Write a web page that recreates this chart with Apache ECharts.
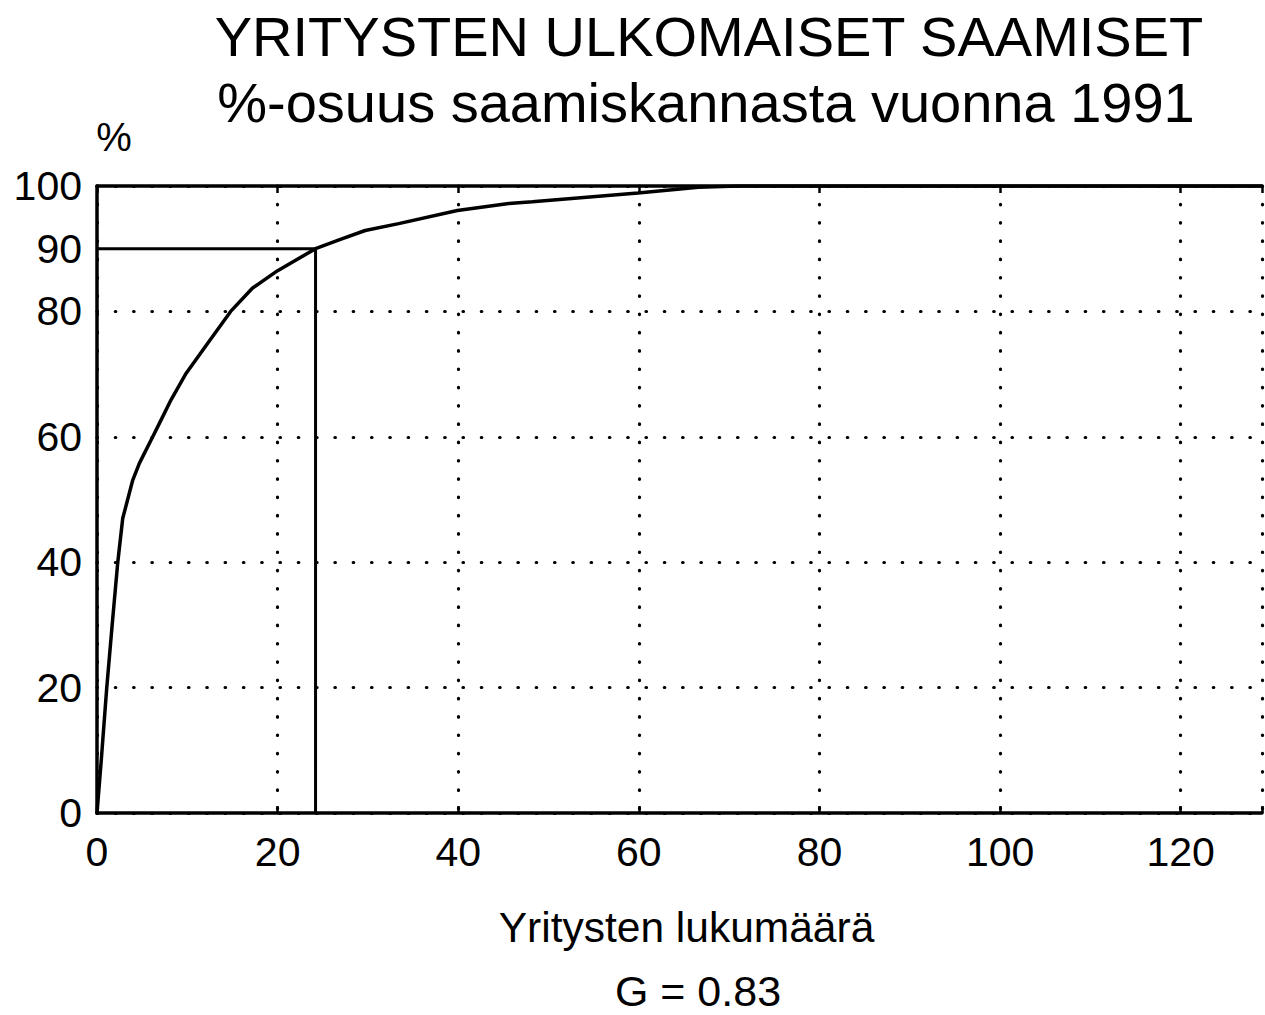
<!DOCTYPE html>
<html>
<head>
<meta charset="utf-8">
<script src="https://cdn.jsdelivr.net/npm/echarts@6/dist/echarts.min.js"></script>
<style>
  html, body { margin: 0; padding: 0; background: #fff; }
  #chart { width: 1265px; height: 1015px; }
</style>
</head>
<body>
<div id="chart"></div>
<script>
// ---- Data ----
const titleLine1 = 'YRITYSTEN ULKOMAISET SAAMISET';
const titleLine2 = '%-osuus saamiskannasta vuonna 1991';
const yUnit = '%';
const xAxisName = 'Yritysten lukumäärä';
const giniText = 'G = 0.83';

// Cumulative share curve: number of firms -> % of receivables stock
const firms = [0, 0.46, 1.08, 1.68, 2.3, 2.85, 3.96, 4.7, 6.17, 7.1, 8.2, 9.86, 12.3, 14.8, 17.2, 20.0, 24.2, 26.8, 29.7, 33.4, 39.9, 45.6, 48.2, 59.9, 66.6, 71, 129];
const share = [0, 8.2, 20, 30, 40, 47.0, 53.1, 55.8, 60, 62.7, 65.9, 70.1, 75.0, 80, 83.7, 86.5, 90, 91.4, 92.9, 94.0, 96.1, 97.2, 97.5, 98.9, 99.8, 100, 100];

// 90 % reference marker lines
const refX = [0, 24.2, 24.2];
const refY = [90, 90, 0];

// Tick labels
const xTicks = [0, 20, 40, 60, 80, 100, 120];
const yTickLabels = [0, 20, 40, 60, 80, 90, 100];

// ---- Chart ----
const FONT = '"Liberation Sans", Arial, Helvetica, sans-serif';
const INK = '#000';

const curve = firms.map((x, i) => [x, share[i]]);
const refLine = refX.map((x, i) => [x, refY[i]]);

const chart = echarts.init(document.getElementById('chart'), null, { renderer: 'svg' });

const dotted = { color: INK, width: 3.2, type: [0.5, 17.8], cap: 'round' };

chart.setOption({
  backgroundColor: '#fff',
  animation: false,
  title: [
    { text: titleLine1, left: 709, top: 8, textAlign: 'center', padding: 0,
      textStyle: { fontFamily: FONT, fontSize: 56, fontWeight: 'normal', color: INK } },
    { text: titleLine2, left: 706, top: 74, textAlign: 'center', padding: 0,
      textStyle: { fontFamily: FONT, fontSize: 56, fontWeight: 'normal', color: INK } },
    { text: yUnit, left: 114, top: 117, textAlign: 'center', padding: 0,
      textStyle: { fontFamily: FONT, fontSize: 40, fontWeight: 'normal', color: INK } },
    { text: giniText, left: 698, top: 969, textAlign: 'center', padding: 0,
      textStyle: { fontFamily: FONT, fontSize: 43, lineHeight: 44, fontWeight: 'normal', color: INK } }
  ],
  grid: { left: 97, right: 1, top: 186, bottom: 202, containLabel: false },
  xAxis: [
    {
      type: 'value', position: 'bottom', min: 0, max: 129, interval: 20,
      name: xAxisName, nameLocation: 'middle', nameGap: 93,
      nameTextStyle: { fontFamily: FONT, fontSize: 42.5, color: INK, padding: [0, 0, 0, 14] },
      axisLine: { show: true, lineStyle: { color: INK, width: 3.5 } },
      axisTick: { show: true, inside: true, length: 7, lineStyle: { color: INK, width: 2.5 } },
      axisLabel: { show: true, margin: 18, fontFamily: FONT, fontSize: 41, color: INK,
        formatter: v => (xTicks.indexOf(v) >= 0 ? String(v) : '') },
      splitLine: { show: true, lineStyle: dotted }
    },
    {
      type: 'value', position: 'top', min: 0, max: 129, interval: 20,
      axisLine: { show: true, onZero: false, lineStyle: { color: INK, width: 3.5 } },
      axisTick: { show: true, inside: true, length: 7, lineStyle: { color: INK, width: 2.5 } },
      axisLabel: { show: false },
      splitLine: { show: false }
    }
  ],
  yAxis: [
    {
      type: 'value', position: 'left', min: 0, max: 100, interval: 10,
      axisLine: { show: true, lineStyle: { color: INK, width: 3.5 } },
      axisTick: { show: false },
      axisLabel: { show: true, margin: 15, fontFamily: FONT, fontSize: 41, color: INK,
        formatter: v => (yTickLabels.indexOf(v) >= 0 ? String(v) : '') },
      splitLine: { show: false }
    },
    {
      type: 'value', position: 'left', min: 0, max: 100, interval: 20,
      axisLine: { show: false }, axisTick: { show: false }, axisLabel: { show: false },
      splitLine: { show: true, lineStyle: dotted }
    }
  ],
  series: [
    {
      name: 'Osuus', type: 'line', xAxisIndex: 0, yAxisIndex: 0,
      data: curve, showSymbol: false, symbol: 'none', smooth: false,
      lineStyle: { color: INK, width: 3.5 }, z: 5
    },
    {
      name: '90 %', type: 'line', xAxisIndex: 0, yAxisIndex: 0,
      data: refLine, showSymbol: false, symbol: 'none',
      lineStyle: { color: INK, width: 3 }, z: 4
    }
  ]
});
</script>
</body>
</html>
